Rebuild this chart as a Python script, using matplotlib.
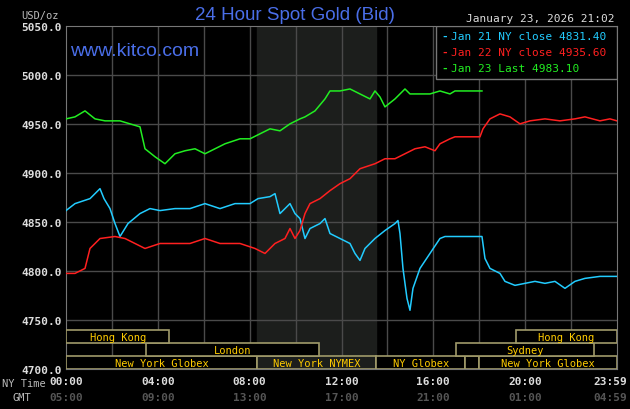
import matplotlib
matplotlib.use("Agg")
import matplotlib.pyplot as plt
from matplotlib.patches import Rectangle

# pixel-read data: x in px (66 -> 00:00, 617 -> 23:59), price
x_px_jan21 = [66, 75, 90, 100, 104, 110, 115, 120, 128, 140, 150, 160, 175, 190, 205, 220, 235, 250, 258, 270, 275, 280,
              290, 295, 300, 305, 310, 320, 325, 330, 340, 350, 355, 360, 365, 375, 385, 395, 398, 400, 403, 407, 410,
              413, 420, 430, 440, 445, 450, 460, 482, 485, 490, 500, 505, 515, 525, 535, 545, 555, 565, 575, 585, 600, 617]
y_px_jan21 = [212, 205, 200, 190, 200, 210, 225, 238, 225, 215, 210, 212, 210, 210, 205, 210, 205, 205, 200, 198, 195, 215,
              205, 215, 220, 240, 230, 225, 220, 235, 240, 245, 255, 262, 250, 240, 232, 225, 222, 235, 270, 300, 312,
              290, 270, 255, 240, 238, 238, 238, 238, 260, 270, 275, 283, 287, 285, 283, 285, 283, 290, 283, 280, 278, 278]
x_px_jan22 = [66, 75, 85, 90, 100, 115, 125, 135, 145, 160, 175, 190, 205, 220, 240, 255, 265, 275, 285, 290, 295, 300,
              305, 310, 320, 330, 340, 350, 360, 375, 385, 395, 405, 415, 425, 435, 440, 450, 455, 470, 480, 483, 490,
              500, 510, 520, 530, 545, 560, 575, 585, 600, 610, 617]
y_px_jan22 = [275, 275, 270, 250, 240, 238, 240, 245, 250, 245, 245, 245, 240, 245, 245, 250, 255, 245, 240, 230, 240, 232,
              215, 205, 200, 192, 185, 180, 170, 165, 160, 160, 155, 150, 148, 152, 145, 140, 138, 138, 138, 130, 120,
              115, 118, 125, 122, 120, 122, 120, 118, 122, 120, 122]
x_px_jan23 = [66, 75, 85, 95, 105, 120, 130, 140, 145, 155, 165, 175, 185, 195, 205, 215, 225, 240, 250, 260, 270, 280,
              290, 300, 305, 315, 325, 330, 340, 350, 360, 370, 375, 380, 385, 395, 400, 405, 410, 420, 430, 440, 450,
              455, 482]
y_px_jan23 = [120, 118, 112, 120, 122, 122, 125, 128, 150, 158, 165, 155, 152, 150, 155, 150, 145, 140, 140, 135, 130, 132,
              125, 120, 118, 112, 100, 92, 92, 90, 95, 100, 92, 98, 108, 100, 95, 90, 95, 95, 95, 92, 95, 92, 92]


def hours(xs):
    return [(x - 66) / 22.96 for x in xs]


def prices(ys):
    return [5000 - (y - 76) / 0.983 for y in ys]


sessions = [  # label, start h, end h, row (0 bottom)
    ("New York Globex", 0, 8.33, 0), ("New York NYMEX", 8.33, 13.5, 0), ("NY Globex", 13.5, 17.4, 0),
    ("", 17.4, 18.0, 0), ("New York Globex", 18.0, 24, 0),
    ("London", 3.5, 11.0, 1), ("Sydney", 17.0, 23.0, 1),
    ("Hong Kong", 0, 4.5, 2), ("Hong Kong", 19.6, 24, 2),
]
x_ticks = [0, 4, 8, 12, 16, 20, 23.98]
ny_labels = ["00:00", "04:00", "08:00", "12:00", "16:00", "20:00", "23:59"]
gmt_labels = ["05:00", "09:00", "13:00", "17:00", "21:00", "01:00", "04:59"]
legend_items = [("Jan 21 NY close 4831.40", "#22ccff"), ("Jan 22 NY close 4935.60", "#ff2020"),
                ("Jan 23 Last 4983.10", "#22ee22")]

mono = "DejaVu Sans Mono"
fig = plt.figure(figsize=(6.3, 4.1), dpi=100, facecolor="black")
ax = fig.add_axes([66 / 630, 1 - 370 / 410, 551 / 630, 343 / 410], facecolor="black")
ax.set_xlim(0, 24)
ax.set_ylim(4700, 5050)

ax.axvspan(8.33, 13.5, color="#1c1e1c", zorder=0)
for h in range(2, 24, 2):
    ax.axvline(h, color="#4a4a4a", lw=1, zorder=1)
for p in range(4750, 5050, 50):
    ax.axhline(p, color="#4a4a4a", lw=1, zorder=1)

ax.plot(hours(x_px_jan21), prices(y_px_jan21), color="#22ccff", lw=1.1, zorder=3)
ax.plot(hours(x_px_jan22), prices(y_px_jan22), color="#ff2020", lw=1.1, zorder=3)
ax.plot(hours(x_px_jan23), prices(y_px_jan23), color="#22ee22", lw=1.1, zorder=3)

row_h = 13.2
for label, h0, h1, row in sessions:
    y0 = 4700 + row * row_h
    ax.add_patch(Rectangle((h0, y0), h1 - h0, row_h, facecolor="black" if label != "New York NYMEX" else "#1c1e1c",
                           edgecolor="#a09a6a", lw=1.2, zorder=4))
    if label:
        ax.text((h0 + h1) / 2, y0 + row_h / 2, label, color="#ffcc00", fontsize=7.5, family=mono,
                ha="center", va="center", zorder=5)

for s in ax.spines.values():
    s.set_color("#777777")
ax.set_yticks(range(4700, 5051, 50))
ax.set_yticklabels([f"{p:.1f}" for p in range(4700, 5051, 50)], color="#dddddd", fontsize=8,
                   family=mono, fontweight="bold")
ax.tick_params(length=0, pad=3)
ax.set_xticks([])
for h, a, b in zip(x_ticks, ny_labels, gmt_labels):
    if h > 23:
        kw = dict(x=627 / 630, transform=fig.transFigure, ha="right")
    else:
        kw = dict(x=h, transform=ax.transData, ha="center")
    y_ny = fig.transFigure.inverted().transform(ax.transData.transform((0, 4688)))[1]
    y_gmt = fig.transFigure.inverted().transform(ax.transData.transform((0, 4671)))[1]
    xx = kw.pop("x")
    tr = kw.pop("transform")
    if tr is fig.transFigure:
        fig.text(xx, y_ny, a, color="#dddddd", fontsize=8, family=mono, fontweight="bold", va="center", **kw)
        fig.text(xx, y_gmt, b, color="#555555", fontsize=8, family=mono, fontweight="bold", va="center", **kw)
    else:
        ax.text(xx, 4688, a, color="#dddddd", fontsize=8, family=mono, fontweight="bold", va="center", **kw)
        ax.text(xx, 4671, b, color="#555555", fontsize=8, family=mono, fontweight="bold", va="center", **kw)
fig.text(2 / 630, 1 - 384 / 410, "NY Time", color="#bbbbbb", fontsize=7.5, family=mono, va="center")
fig.text(12 / 630, 1 - 398 / 410, "GMT", color="#bbbbbb", fontsize=7.5, family=mono, va="center")
fig.text(21 / 630, 1 - 16 / 410, "USD/oz", color="#bbbbbb", fontsize=7.5, family=mono, va="center")

fig.text(295 / 630, 1 - 16 / 410, "24 Hour Spot Gold (Bid)", color="#4a6ee8", fontsize=13.5, ha="center",
         va="center", family="Liberation Sans")
fig.text(540 / 630, 1 - 19 / 410, "January 23, 2026 21:02", color="#dddddd", fontsize=8, family=mono,
         ha="center", va="center")
ax.text(0.008, 0.93, "www.kitco.com", transform=ax.transAxes, color="#4a6ee8", fontsize=14,
        family="Liberation Sans", va="center")

# legend box
ax.add_patch(Rectangle((16.1, 4996), 7.9, 54, facecolor="black", edgecolor="#777777", lw=1, zorder=5))
for i, (txt, c) in enumerate(legend_items):
    yy = 1 - (37 + i * 16) / 410
    fig.text(441 / 630, yy, "-", color=c, fontsize=8, family=mono, fontweight="bold", va="center", zorder=6)
    fig.text(451 / 630, yy, txt, color=c, fontsize=8, family=mono, va="center", zorder=6)

fig.savefig("out.png", dpi=100, facecolor="black")
